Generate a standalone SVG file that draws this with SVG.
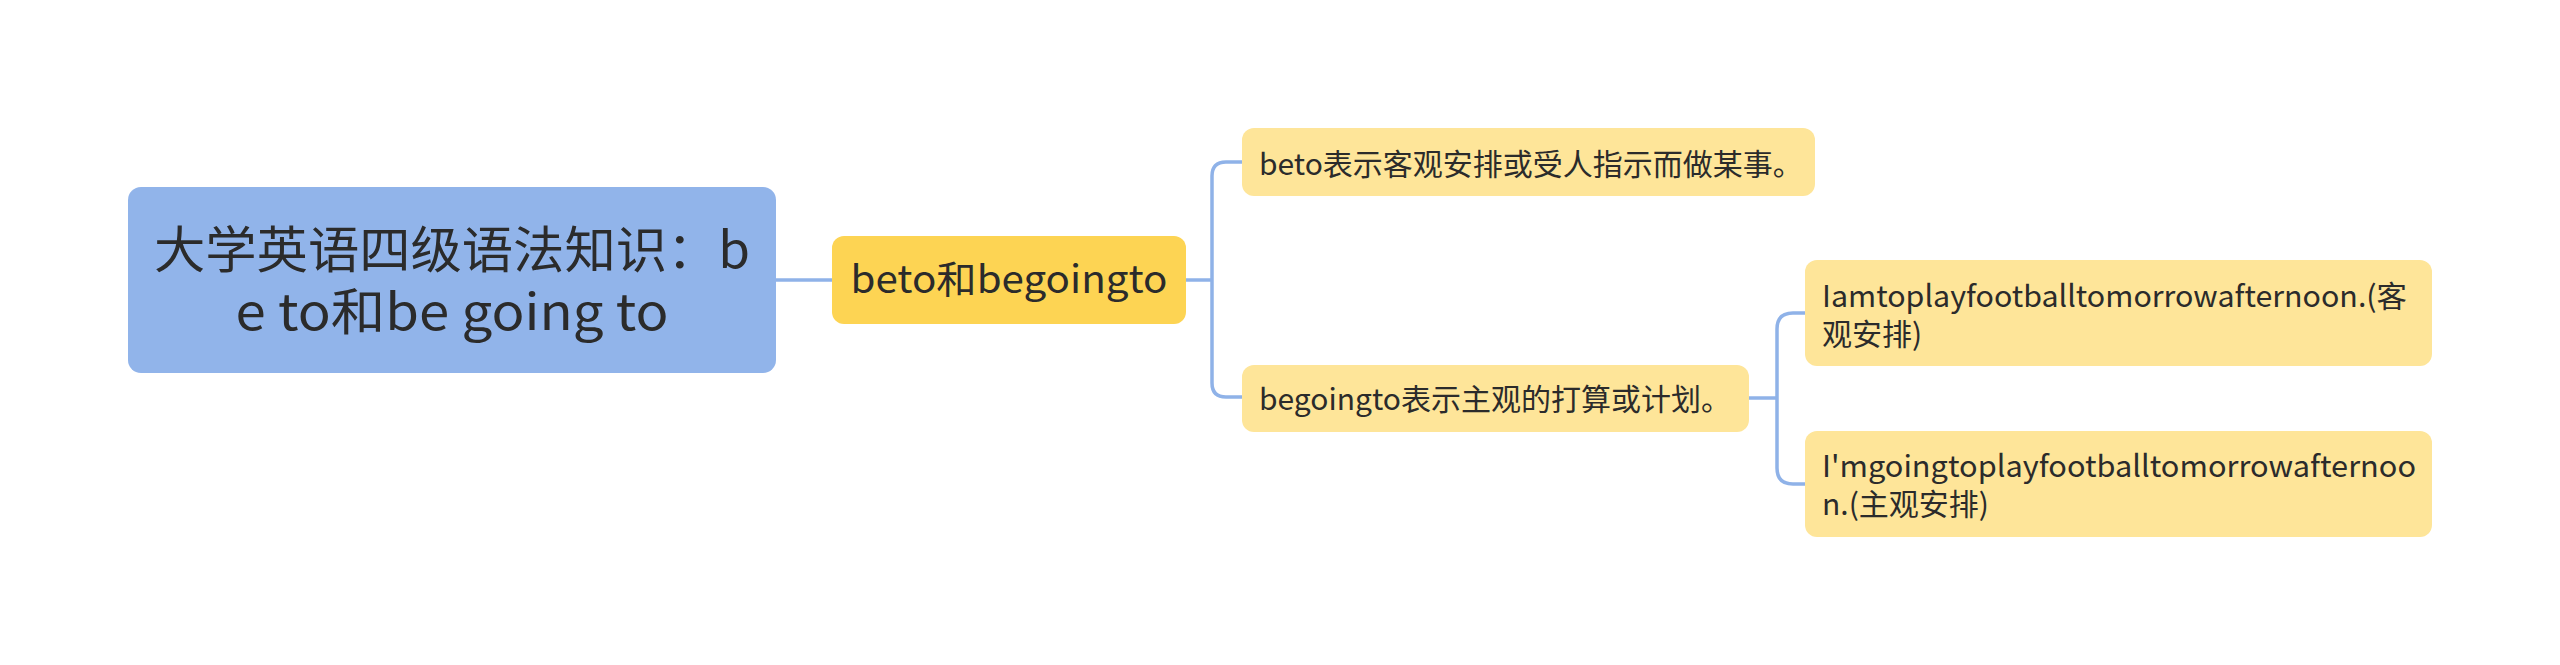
<svg xmlns="http://www.w3.org/2000/svg" width="2560" height="665" viewBox="0 0 2560 665">
<style>
text { font-family: "Noto Sans CJK SC", "Noto Sans", sans-serif; fill: #2b2b2b; }
.root rect { fill: #91b4ea; }
.mid rect { fill: #fdd453; }
.leaf rect { fill: #fee599; }
.root text { font-size: 50px; text-anchor: middle; }
.mid text { font-size: 38px; text-anchor: middle; }
.leaf text { font-size: 30px; }
.conn path { fill: none; stroke: #8fb2e8; stroke-width: 3.5; }
</style>
<rect width="2560" height="665" fill="#ffffff"/>
<g class="conn" id="connectors">
<path d="M776,280 H832"/>
<path d="M1186,280 H1212"/>
<path d="M1242,162 H1226 Q1212,162 1212,176 V383 Q1212,397 1226,397 H1242"/>
<path d="M1749,398 H1777"/>
<path d="M1805,313 H1793 Q1777,313 1777,329 V468 Q1777,484 1793,484 H1805"/>
</g>
<g class="root" id="node-root">
<rect x="128" y="187" width="648" height="186" rx="13"/>
<text x="452" y="268" textLength="596" lengthAdjust="spacingAndGlyphs">大学英语四级语法知识：b</text>
<text x="452" y="330" textLength="433" lengthAdjust="spacingAndGlyphs">e to和be going to</text>
</g>
<g class="mid" id="node-mid">
<rect x="832" y="236" width="354" height="88" rx="12"/>
<text x="1009" y="293" textLength="317" lengthAdjust="spacingAndGlyphs">beto和begoingto</text>
</g>
<g class="leaf" id="node-leaf1">
<rect x="1242" y="128" width="573" height="68" rx="12"/>
<text x="1259" y="175">beto表示客观安排或受人指示而做某事。</text>
</g>
<g class="leaf" id="node-leaf2">
<rect x="1242" y="365" width="507" height="67" rx="12"/>
<text x="1259" y="410">begoingto表示主观的打算或计划。</text>
</g>
<g class="leaf" id="node-leaf3">
<rect x="1805" y="260" width="627" height="106" rx="12"/>
<text x="1822" y="307" textLength="585" lengthAdjust="spacingAndGlyphs">Iamtoplayfootballtomorrowafternoon.(客</text>
<text x="1822" y="345">观安排)</text>
</g>
<g class="leaf" id="node-leaf4">
<rect x="1805" y="431" width="627" height="106" rx="12"/>
<text x="1822" y="477" textLength="594" lengthAdjust="spacingAndGlyphs">I'mgoingtoplayfootballtomorrowafternoo</text>
<text x="1822" y="515">n.(主观安排)</text>
</g>
</svg>
